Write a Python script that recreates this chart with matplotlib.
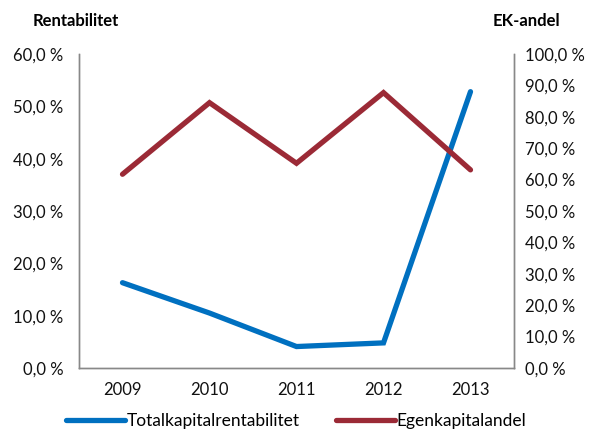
import matplotlib
matplotlib.use("Agg")
import matplotlib.pyplot as plt
from matplotlib.ticker import FuncFormatter

plt.rcParams['font.family'] = ['Lato', 'DejaVu Sans']

years = ['2009', '2010', '2011', '2012', '2013']
totalkapital = [16.3, 10.5, 4.1, 4.8, 52.8]
egenkapital = [61.7, 84.5, 65.2, 87.7, 63.1]

blue = '#0070C0'
red = '#9B2A36'
grey = '#888888'

fig = plt.figure(figsize=(5.92, 4.30), dpi=100)
ax = fig.add_axes([79/592, 1 - 368/430, (514-79)/592, (368-54)/430])
ax2 = ax.twinx()

x = range(len(years))
l1, = ax.plot(x, totalkapital, color=blue, lw=3.8, solid_capstyle='round',
              solid_joinstyle='miter', label='Totalkapitalrentabilitet')
l2, = ax2.plot(x, egenkapital, color=red, lw=3.8, solid_capstyle='round',
               solid_joinstyle='miter', label='Egenkapitalandel')

fmt = FuncFormatter(lambda v, p: f"{v:.1f}".replace('.', ',') + ' %')
ax.set_ylim(0, 60)
ax.set_yticks(range(0, 61, 10))
ax.yaxis.set_major_formatter(fmt)
ax2.set_ylim(0, 100)
ax2.set_yticks(range(0, 101, 10))
ax2.yaxis.set_major_formatter(fmt)

ax.set_xlim(-0.5, 4.5)
ax.set_xticks(list(x))
ax.set_xticklabels(years)

for a in (ax, ax2):
    a.spines['top'].set_visible(False)
    for s in ('left', 'right', 'bottom'):
        a.spines[s].set_color(grey)
        a.spines[s].set_linewidth(1.0)
    a.tick_params(length=0, labelsize=12, colors='#111111')
ax.tick_params(axis='y', pad=11)
ax2.tick_params(axis='y', pad=8)
ax.tick_params(axis='x', pad=10)

fig.text(33/592, 1 - 21/430, 'Rentabilitet', fontsize=12, fontweight='bold', va='center')
fig.text(493/592, 1 - 21/430, 'EK-andel', fontsize=12, fontweight='bold', va='center')

fig.legend(handles=[l1, l2], loc='center', bbox_to_anchor=(296/592, 1 - 421/430),
           ncol=2, frameon=False, fontsize=12.5, handlelength=3.4,
           handletextpad=0.1, columnspacing=2.1)

fig.savefig('out.png', dpi=100)
